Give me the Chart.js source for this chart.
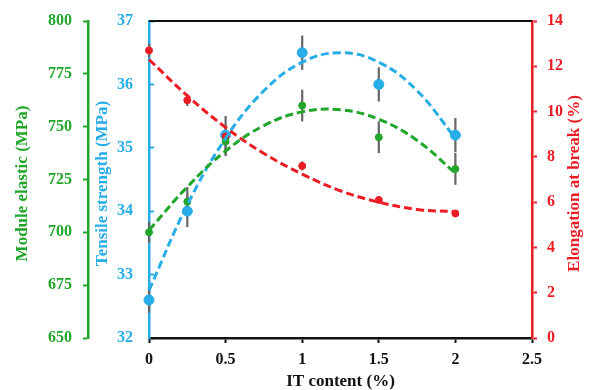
<!DOCTYPE html>
<html>
<head>
<meta charset="utf-8">
<script src="https://cdn.jsdelivr.net/npm/chart.js@4.4.0/dist/chart.umd.min.js"></script>
<style>
  html, body { margin: 0; padding: 0; background: #fff; }
  #wrap { width: 592px; height: 390px; }
</style>
</head>
<body>
<div id="wrap"><canvas id="chart"></canvas></div>
<script>
// IT content (%) - x values of the measurements
const itContent = [0, 0.25, 0.5, 1, 1.5, 2];

// Measured values with their error bars
const tensile = [32.6, 34.0, 35.2, 36.5, 36.0, 35.2];
const tensileErr = [0.2, 0.25, 0.3, 0.27, 0.27, 0.27];
const modulus = [700, 714.5, 743, 760, 745, 730];
const modulusErr = [5, 7, 7, 7.5, 7.5, 7.5];
const elongation = [12.7, 10.5, 8.9, 7.6, 6.1, 5.5];
const elongationErr = [0.3, 0.25, 0.2, 0.2, 0.1, 0.1];

// Dashed trend lines
const trendX = [0, 0.25, 0.5, 0.75, 1, 1.25, 1.5, 1.75, 2];
const tensileTrend = [32.75, 34.1, 35.15, 35.9, 36.35, 36.5, 36.35, 35.9, 35.15];
const modulusTrend = [701, 721.5, 738.5, 750.5, 757, 758, 753.5, 743.5, 728];
const elongationTrend = [12.3, 10.7, 9.3, 8.15, 7.24, 6.5, 6.0, 5.68, 5.58];

const GREEN = '#22a52b';
const BLUE = '#27ade8';
const RED = '#ec1c24';
const FONT = '"Liberation Serif", "Times New Roman", serif';

function toPoints(xs, ys) {
    return xs.map((x, i) => ({ x: x, y: ys[i] }));
}

// Error bars drawn through the scales
const errorBars = {
    id: 'errorBars',
    beforeDatasetsDraw(chart) {
        const ctx = chart.ctx;
        const xs = chart.scales.x;
        const sets = [
            [modulus, modulusErr, 'yM'],
            [tensile, tensileErr, 'yT'],
            [elongation, elongationErr, 'yE']
        ];
        ctx.save();
        ctx.strokeStyle = '#666';
        ctx.lineWidth = 2.2;
        sets.forEach(([vals, errs, id]) => {
            const ys = chart.scales[id];
            vals.forEach((v, i) => {
                const px = xs.getPixelForValue(itContent[i]);
                ctx.beginPath();
                ctx.moveTo(px, ys.getPixelForValue(v - errs[i]));
                ctx.lineTo(px, ys.getPixelForValue(v + errs[i]));
                ctx.stroke();
            });
        });
        ctx.restore();
    }
};

// Top frame line and the rotated axis titles
const frameAndTitles = {
    id: 'frameAndTitles',
    afterDraw(chart) {
        const ctx = chart.ctx;
        const area = chart.chartArea;
        ctx.save();
        ctx.strokeStyle = '#111';
        ctx.lineWidth = 2;
        ctx.beginPath();
        ctx.moveTo(area.left, area.top);
        ctx.lineTo(area.right, area.top);
        ctx.stroke();

        const midY = (area.top + area.bottom) / 2;
        ctx.font = 'bold 17px ' + FONT;
        ctx.textAlign = 'center';
        ctx.textBaseline = 'middle';
        const titles = [
            ['Module elastic (MPa)', chart.scales.yM.left + 23, GREEN],
            ['Tensile strength (MPa)', chart.scales.yT.left + 15, BLUE],
            ['Elongation at break (%)', chart.scales.yE.right - 17, RED]
        ];
        titles.forEach(([text, x, color]) => {
            ctx.save();
            ctx.translate(x, midY + 4);
            ctx.rotate(-Math.PI / 2);
            ctx.fillStyle = color;
            ctx.fillText(text, 0, 0);
            ctx.restore();
        });
        ctx.restore();
    }
};

const tickFont = { family: FONT, size: 16, weight: 'bold' };

const ctx = document.getElementById('chart').getContext('2d');
new Chart(ctx, {
    type: 'scatter',
    data: {
        datasets: [
            {
                type: 'line', data: toPoints(trendX, elongationTrend), yAxisID: 'yE',
                borderColor: RED, borderWidth: 3, borderDash: [8, 4], pointRadius: 0,
                tension: 0.4, fill: false, clip: false
            },
            {
                type: 'line', data: toPoints(trendX, modulusTrend), yAxisID: 'yM',
                borderColor: GREEN, borderWidth: 3, borderDash: [8, 4], pointRadius: 0,
                tension: 0.4, fill: false, clip: false
            },
            {
                type: 'line', data: toPoints(trendX, tensileTrend), yAxisID: 'yT',
                borderColor: BLUE, borderWidth: 3, borderDash: [8, 4], pointRadius: 0,
                tension: 0.4, fill: false, clip: false
            },
            {
                data: toPoints(itContent, modulus), yAxisID: 'yM',
                backgroundColor: GREEN, borderColor: GREEN, pointRadius: 3.5, clip: false
            },
            {
                data: toPoints(itContent, elongation), yAxisID: 'yE',
                backgroundColor: RED, borderColor: RED, pointRadius: 3.5, clip: false
            },
            {
                data: toPoints(itContent, tensile), yAxisID: 'yT',
                backgroundColor: BLUE, borderColor: BLUE, pointRadius: 5, clip: false
            }
        ]
    },
    options: {
        responsive: true,
        maintainAspectRatio: false,
        animation: false,
        layout: { padding: { top: 21, right: 0, bottom: 0, left: 0 } },
        plugins: { legend: { display: false }, tooltip: { enabled: false } },
        scales: {
            x: {
                type: 'linear', position: 'bottom', min: 0, max: 2.5,
                ticks: {
                    stepSize: 0.5, color: '#111', font: tickFont, padding: 7,
                    callback: (v) => String(v)
                },
                grid: { drawOnChartArea: false, color: '#111', tickLength: 5, tickWidth: 2 },
                border: { color: '#111', width: 2.5 },
                title: {
                    display: true, text: 'IT content (%)', color: '#111',
                    font: { family: FONT, size: 17, weight: 'bold', lineHeight: 1 },
                    padding: { top: 0, bottom: 0 }
                },
                afterFit(s) { s.height = 52; }
            },
            yM: {
                type: 'linear', position: 'left', weight: 1, min: 650, max: 800,
                ticks: { stepSize: 25, color: GREEN, font: tickFont, padding: 11 },
                grid: { drawOnChartArea: false, color: GREEN, tickLength: 5, tickWidth: 2 },
                border: { color: GREEN, width: 2.5 },
                afterFit(s) { s.width = 88; }
            },
            yT: {
                type: 'linear', position: 'left', weight: 0, min: 32, max: 37,
                ticks: { stepSize: 1, color: BLUE, font: tickFont, padding: 21 },
                grid: { drawOnChartArea: false, color: BLUE, tickLength: -5, tickWidth: 2 },
                border: { color: BLUE, width: 2.5 },
                // the big label padding would otherwise push the plot top down
                afterFit(s) { s.width = 61; s.paddingTop = 10; s.paddingBottom = 10; }
            },
            yE: {
                type: 'linear', position: 'right', min: 0, max: 14,
                ticks: { stepSize: 2, color: RED, font: tickFont, padding: 10 },
                grid: { drawOnChartArea: false, color: RED, tickLength: 5, tickWidth: 2 },
                border: { color: RED, width: 2.5 },
                afterFit(s) { s.width = 60; }
            }
        }
    },
    plugins: [errorBars, frameAndTitles]
});
</script>
</body>
</html>
